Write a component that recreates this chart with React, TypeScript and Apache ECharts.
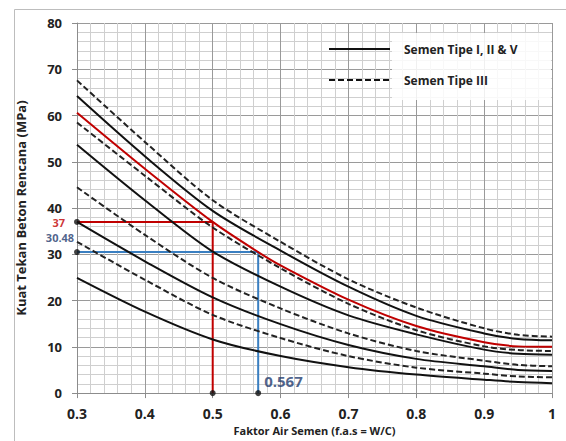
import React, { useEffect, useRef } from "react";
import * as echarts from "echarts";

// water-cement ratio (x) sample positions
const wcRatio = [0.3, 0.4, 0.5, 0.6, 0.7, 0.8, 0.9, 0.95, 1.0];
// curves, top to bottom
const curveA = [67.6, 54.3, 41.7, 32.7, 24.6, 18.5, 14.0, 12.6, 12.2]; // dashed
const curveB = [64.2, 51.2, 39.4, 30.8, 23.0, 16.7, 12.9, 11.7, 11.4]; // solid
const curveC = [58.5, 47.0, 35.8, 27.0, 19.3, 13.6, 10.1, 9.3, 9.1]; // dashed
const curveD = [53.7, 41.7, 30.6, 23.0, 16.8, 12.7, 9.4, 8.5, 8.3]; // solid
const curveE = [44.5, 34.2, 24.9, 18.3, 12.9, 9.1, 7.0, 6.1, 5.8]; // dashed
const curveF = [37.0, 28.5, 20.7, 14.9, 10.4, 7.4, 5.8, 5.0, 4.8]; // solid
const curveG = [32.7, 24.5, 16.9, 11.9, 8.0, 5.5, 4.2, 3.6, 3.4]; // dashed
const curveH = [24.9, 17.6, 11.6, 8.0, 5.6, 4.0, 2.9, 2.4, 2.15]; // solid
// interpolated (red) curve
const redX = [0.3, 0.4, 0.5, 0.567, 0.6, 0.7, 0.8, 0.9, 0.95, 1.0];
const redY = [60.6, 48.5, 37.0, 30.48, 27.6, 20.2, 14.5, 11.0, 10.1, 10.0];
// reading lines
const redPathX = [0.3, 0.5, 0.5];
const redPathY = [37, 37, 0];
const bluePathX = [0.3, 0.567, 0.567];
const bluePathY = [30.48, 30.48, 0];

const legendLabels = ["Semen Tipe I, II & V", "Semen Tipe III"];
const xAxisTitle = "Faktor Air Semen (f.a.s = W/C)";
const yAxisTitle = "Kuat Tekan Beton Rencana (MPa)";

const zip = (xs: number[], ys: number[]) => xs.map((x, i) => [x, ys[i]]);

const BLACK = "#111";
const RED = "#c00000";
const BLUE = "#3a7fc1";
const NAVY = "#1f3a6e";

function curve(name: string, ys: number[], dashed: boolean) {
  return {
    name,
    type: "line",
    data: zip(wcRatio, ys),
    smooth: 0.3,
    symbol: "none",
    lineStyle: {
      color: dashed ? "#222" : BLACK,
      width: 2,
      type: dashed ? [6, 3] : "solid",
    },
    z: 3,
  };
}

export default function App() {
  const ref = useRef<HTMLDivElement>(null);
  useEffect(() => {
    if (!ref.current) return;
    const chart = echarts.init(ref.current, undefined, { renderer: "svg" });
    const font = "'Open Sans', sans-serif";
    chart.setOption({
      animation: false,
      backgroundColor: "#fff",
      grid: { left: 77, right: 14, top: 23, bottom: 34, containLabel: false },
      xAxis: {
        type: "value",
        min: 0.3,
        max: 1,
        interval: 0.1,
        name: xAxisTitle,
        nameLocation: "middle",
        nameGap: 23,
        nameTextStyle: { fontFamily: font, fontSize: 11, fontWeight: "bold", color: "#222" },
        axisLine: { show: true, lineStyle: { color: "#8c8c8c", width: 1 } },
        axisTick: { show: true, length: 5, lineStyle: { color: "#8c8c8c" } },
        axisLabel: {
          margin: 13,
          fontFamily: font,
          fontSize: 14,
          fontWeight: "bold",
          color: "#222",
          formatter: (v: number) => String(Math.round(v * 10) / 10),
        },
        splitLine: { show: true, lineStyle: { color: "#9a9a9a", width: 1 } },
        minorTick: { show: false, splitNumber: 5 },
        minorSplitLine: { show: true, lineStyle: { color: "#cfcfcf", width: 1 } },
      },
      yAxis: {
        type: "value",
        min: 0,
        max: 80,
        interval: 10,
        name: yAxisTitle,
        nameLocation: "middle",
        nameGap: 50,
        nameTextStyle: { fontFamily: font, fontSize: 13, fontWeight: "bold", color: "#222" },
        axisLine: { show: true, lineStyle: { color: "#8c8c8c", width: 1 } },
        axisTick: { show: true, length: 5, lineStyle: { color: "#8c8c8c" } },
        axisLabel: { margin: 15, fontFamily: font, fontSize: 13, fontWeight: "bold", color: "#222" },
        splitLine: { show: true, lineStyle: { color: "#9a9a9a", width: 1 } },
        minorTick: { show: false, splitNumber: 5 },
        minorSplitLine: { show: true, lineStyle: { color: "#cfcfcf", width: 1 } },
      },
      series: [
        {
          name: "red guide",
          type: "line",
          data: zip(redPathX, redPathY),
          symbol: "none",
          lineStyle: { color: RED, width: 2 },
          z: 2,
        },
        {
          name: "blue guide",
          type: "line",
          data: zip(bluePathX, bluePathY),
          symbol: "none",
          lineStyle: { color: BLUE, width: 2 },
          z: 2,
        },
        curve("A", curveA, true),
        curve("B", curveB, false),
        {
          name: "Interpolasi",
          type: "line",
          data: zip(redX, redY),
          smooth: 0.3,
          symbol: "none",
          lineStyle: { color: RED, width: 2 },
          z: 3,
        },
        curve("C", curveC, true),
        curve("D", curveD, false),
        curve("E", curveE, true),
        curve("F", curveF, false),
        curve("G", curveG, true),
        curve("H", curveH, false),
        {
          name: "points",
          type: "scatter",
          symbolSize: 6,
          itemStyle: { color: "#111" },
          z: 5,
          data: [
            {
              value: [redPathX[0], redPathY[0]],
              label: {
                show: true,
                position: "left",
                distance: 9,
                offset: [0, 1],
                formatter: String(redPathY[0]),
                color: RED,
                fontFamily: font,
                fontSize: 11,
                fontWeight: "bold",
              },
            },
            {
              value: [bluePathX[0], bluePathY[0]],
              label: {
                show: true,
                position: "top",
                distance: 6,
                offset: [-17, 0],
                formatter: String(bluePathY[0]),
                color: NAVY,
                fontFamily: font,
                fontSize: 11,
                fontWeight: "bold",
              },
            },
            { value: [redPathX[2], redPathY[2]] },
            {
              value: [bluePathX[2], bluePathY[2]],
              label: {
                show: true,
                position: "right",
                distance: 3,
                offset: [0, -12],
                formatter: String(bluePathX[2]),
                color: NAVY,
                fontFamily: font,
                fontSize: 15,
                fontWeight: "bold",
              },
            },
          ],
        },
      ],
      graphic: [
        {
          type: "rect",
          left: 12,
          top: 7,
          shape: { width: 600, height: 500 },
          style: { fill: "none", stroke: "#bdbdbd", lineWidth: 1 },
          silent: true,
          z: -10,
        },
        {
          type: "rect",
          shape: { x: 392, y: 33, width: 159, height: 67 },
          style: { fill: "rgba(255,255,255,0.85)" },
          z: 10,
        },
        {
          type: "line",
          shape: { x1: 329, y1: 49, x2: 390, y2: 49 },
          style: { stroke: "#111", lineWidth: 2 },
          z: 11,
        },
        {
          type: "line",
          shape: { x1: 329, y1: 80, x2: 390, y2: 80 },
          style: { stroke: "#111", lineWidth: 2, lineDash: [6, 3] },
          z: 11,
        },
        {
          type: "text",
          x: 404,
          y: 49,
          style: {
            text: legendLabels[0],
            fill: "#222",
            font: "bold 12px 'Open Sans', sans-serif",
            verticalAlign: "middle",
          },
          z: 11,
        },
        {
          type: "text",
          x: 404,
          y: 80,
          style: {
            text: legendLabels[1],
            fill: "#222",
            font: "bold 12px 'Open Sans', sans-serif",
            verticalAlign: "middle",
          },
          z: 11,
        },
      ],
    });
    return () => chart.dispose();
  }, []);
  return (
    <div
      ref={ref}
      style={{ position: "fixed", left: 0, top: 0, width: 566, height: 441 }}
    />
  );
}
